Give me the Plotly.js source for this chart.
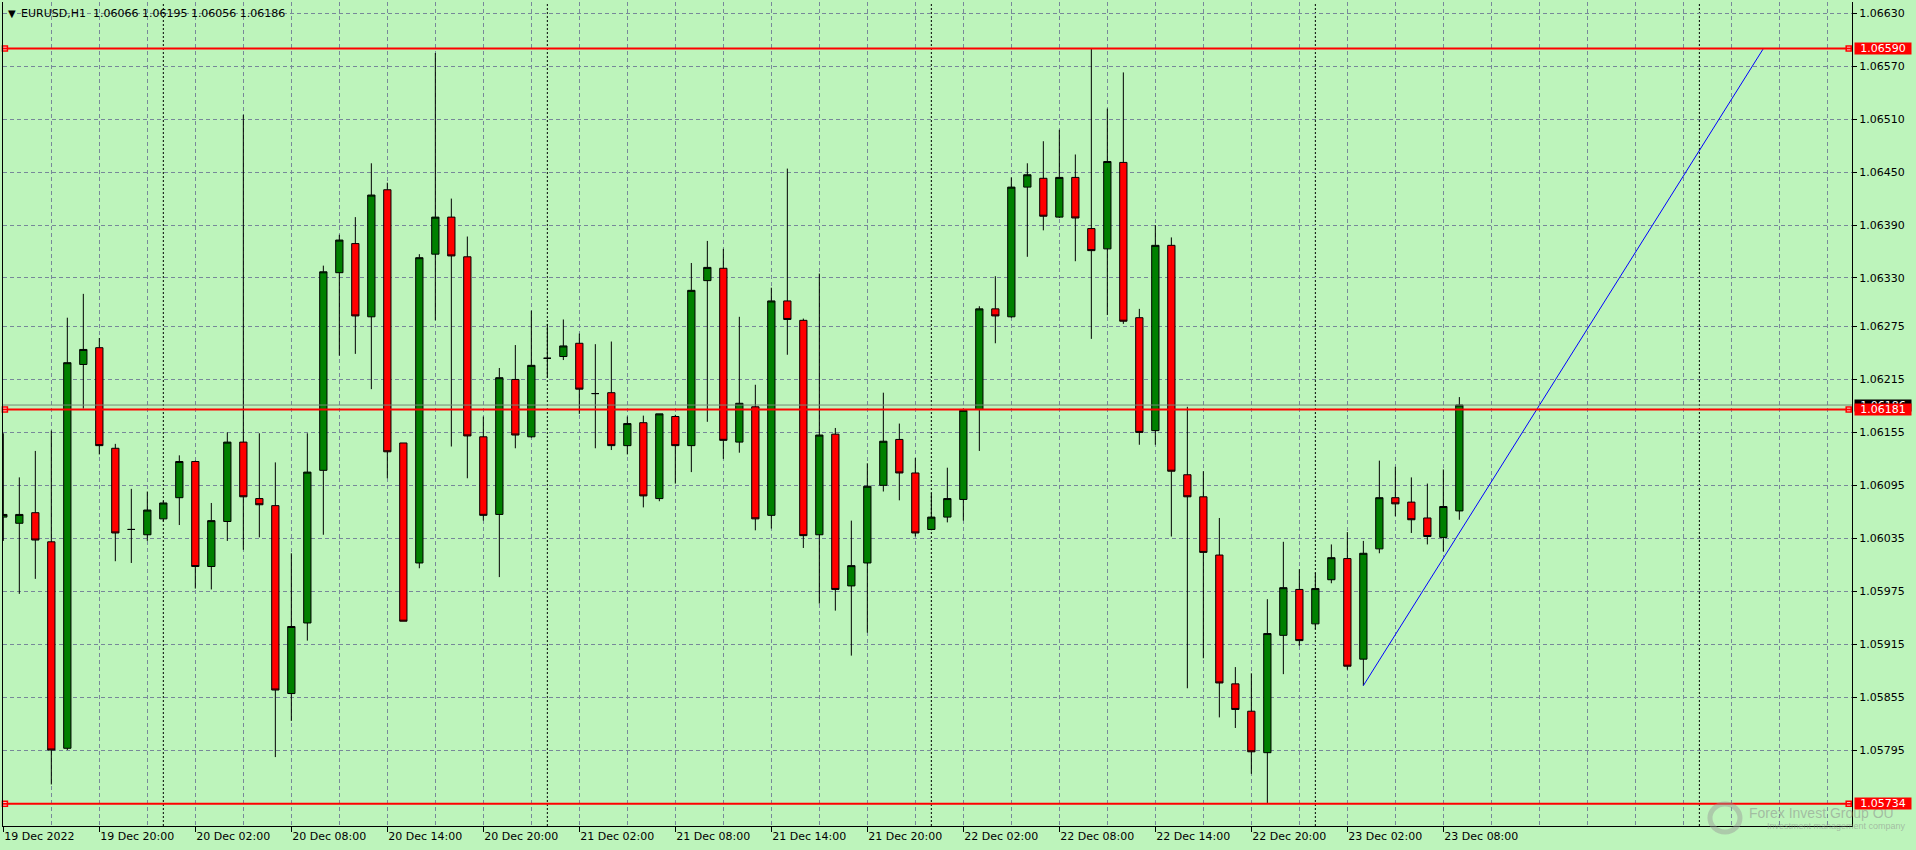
<!DOCTYPE html>
<html><head><meta charset="utf-8">
<script src="https://cdn.plot.ly/plotly-3.0.1.min.js"></script>
<style>html,body{margin:0;padding:0;background:#BDF4BB;} #chart{width:1916px;height:850px;}</style>
</head><body><div id="chart"></div>
<script>
// ---- data (EURUSD H1) ----
const times = [
"2022-12-19 14:00","2022-12-19 15:00","2022-12-19 16:00","2022-12-19 17:00","2022-12-19 18:00","2022-12-19 19:00","2022-12-19 20:00","2022-12-19 21:00","2022-12-19 22:00","2022-12-19 23:00",
"2022-12-20 00:00","2022-12-20 01:00","2022-12-20 02:00","2022-12-20 03:00","2022-12-20 04:00","2022-12-20 05:00","2022-12-20 06:00","2022-12-20 07:00","2022-12-20 08:00","2022-12-20 09:00","2022-12-20 10:00","2022-12-20 11:00","2022-12-20 12:00","2022-12-20 13:00","2022-12-20 14:00","2022-12-20 15:00","2022-12-20 16:00","2022-12-20 17:00","2022-12-20 18:00","2022-12-20 19:00","2022-12-20 20:00","2022-12-20 21:00","2022-12-20 22:00","2022-12-20 23:00",
"2022-12-21 00:00","2022-12-21 01:00","2022-12-21 02:00","2022-12-21 03:00","2022-12-21 04:00","2022-12-21 05:00","2022-12-21 06:00","2022-12-21 07:00","2022-12-21 08:00","2022-12-21 09:00","2022-12-21 10:00","2022-12-21 11:00","2022-12-21 12:00","2022-12-21 13:00","2022-12-21 14:00","2022-12-21 15:00","2022-12-21 16:00","2022-12-21 17:00","2022-12-21 18:00","2022-12-21 19:00","2022-12-21 20:00","2022-12-21 21:00","2022-12-21 22:00","2022-12-21 23:00",
"2022-12-22 00:00","2022-12-22 01:00","2022-12-22 02:00","2022-12-22 03:00","2022-12-22 04:00","2022-12-22 05:00","2022-12-22 06:00","2022-12-22 07:00","2022-12-22 08:00","2022-12-22 09:00","2022-12-22 10:00","2022-12-22 11:00","2022-12-22 12:00","2022-12-22 13:00","2022-12-22 14:00","2022-12-22 15:00","2022-12-22 16:00","2022-12-22 17:00","2022-12-22 18:00","2022-12-22 19:00","2022-12-22 20:00","2022-12-22 21:00","2022-12-22 22:00","2022-12-22 23:00",
"2022-12-23 00:00","2022-12-23 01:00","2022-12-23 02:00","2022-12-23 03:00","2022-12-23 04:00","2022-12-23 05:00","2022-12-23 06:00","2022-12-23 07:00","2022-12-23 08:00","2022-12-23 09:00"
];
const open = [
1.06059,1.06052,1.06064,1.06031,1.05797,1.06232,1.06251,1.06137,1.06045,1.06039,
1.06057,1.06081,1.06122,1.06003,1.06054,1.06144,1.06080,1.06072,1.05859,1.05939,1.06112,1.06336,1.06369,1.06286,1.06430,1.06143,1.06007,1.06357,1.06399,1.06354,1.06150,1.06062,1.06215,1.06150,
1.06239,1.06241,1.06256,1.06199,1.06200,1.06140,1.06166,1.06080,1.06173,1.06140,1.06327,1.06341,1.06144,1.06184,1.06061,1.06304,1.06282,1.06039,1.06153,1.05981,1.06007,1.06095,1.06147,1.06109,
1.06045,1.06059,1.06079,1.06181,1.06295,1.06286,1.06433,1.06443,1.06399,1.06444,1.06386,1.06363,1.06461,1.06285,1.06157,1.06367,1.06107,1.06082,1.06016,1.05870,1.05839,1.05792,1.05925,1.05977,
1.05938,1.05988,1.06012,1.05898,1.06023,1.06081,1.06076,1.06058,1.06036,1.06066
];
const high = [
1.06154,1.06104,1.06134,1.06157,1.06285,1.06312,1.06262,1.06142,1.06091,1.06088,
1.06077,1.06129,1.06123,1.06075,1.06155,1.06515,1.06154,1.06121,1.06018,1.06154,1.06344,1.06379,1.06399,1.06460,1.06438,1.06143,1.06357,1.06585,1.06420,1.06377,1.06173,1.06228,1.06254,1.06293,
1.06278,1.06283,1.06267,1.06255,1.06258,1.06173,1.06174,1.06176,1.06175,1.06347,1.06372,1.06363,1.06286,1.06209,1.06319,1.06454,1.06284,1.06335,1.06160,1.06055,1.06120,1.06200,1.06165,1.06126,
1.06086,1.06115,1.06182,1.06298,1.06332,1.06444,1.06460,1.06485,1.06498,1.06470,1.06590,1.06522,1.06563,1.06295,1.06390,1.06376,1.06184,1.06111,1.06058,1.05889,1.05882,1.05966,1.06031,1.06000,
1.05996,1.06028,1.06042,1.06032,1.06123,1.06116,1.06104,1.06097,1.06113,1.06195
];
const low = [
1.06032,1.05972,1.05989,1.05756,1.05795,1.06182,1.06130,1.06009,1.06007,1.06032,
1.06054,1.06050,1.05978,1.05977,1.06032,1.06022,1.06036,1.05787,1.05828,1.05919,1.06039,1.06242,1.06244,1.06204,1.06103,1.05941,1.06001,1.06282,1.06139,1.06103,1.06055,1.05991,1.06137,1.06149,
1.06217,1.06237,1.06176,1.06137,1.06135,1.06130,1.06070,1.06077,1.06097,1.06110,1.06167,1.06125,1.06132,1.06044,1.06046,1.06243,1.06024,1.05961,1.05953,1.05902,1.05928,1.06088,1.06078,1.06037,
1.06044,1.06053,1.06055,1.06134,1.06256,1.06285,1.06354,1.06384,1.06398,1.06349,1.06261,1.06288,1.06278,1.06141,1.06141,1.06037,1.05865,1.05899,1.05832,1.05820,1.05768,1.05735,1.05881,1.05913,
1.05932,1.05984,1.05886,1.05868,1.06018,1.06060,1.06041,1.06028,1.06020,1.06056
];
const close = [
1.06062,1.06062,1.06033,1.05795,1.06234,1.06249,1.06140,1.06041,1.06045,1.06067,
1.06075,1.06122,1.06003,1.06055,1.06144,1.06082,1.06073,1.05863,1.05935,1.06110,1.06337,1.06373,1.06287,1.06424,1.06133,1.05941,1.06353,1.06399,1.06355,1.06151,1.06061,1.06217,1.06152,1.06231,
1.06239,1.06253,1.06204,1.06199,1.06140,1.06165,1.06083,1.06176,1.06140,1.06316,1.06342,1.06146,1.06188,1.06057,1.06304,1.06283,1.06038,1.06152,1.05977,1.06004,1.06094,1.06145,1.06109,1.06041,
1.06059,1.06080,1.06180,1.06295,1.06287,1.06433,1.06447,1.06400,1.06444,1.06398,1.06361,1.06462,1.06281,1.06155,1.06367,1.06111,1.06082,1.06019,1.05871,1.05841,1.05793,1.05927,1.05979,1.05919,
1.05978,1.06013,1.05890,1.06018,1.06081,1.06074,1.06056,1.06037,1.06071,1.06186
];
const yTickVals = [1.06630,1.06570,1.06510,1.06450,1.06390,1.06330,1.06275,1.06215,1.06155,1.06095,1.06035,1.05975,1.05915,1.05855,1.05795];
const yTickText = ["1.06630","1.06570","1.06510","1.06450","1.06390","1.06330","1.06275","1.06215","1.06155","1.06095","1.06035","1.05975","1.05915","1.05855","1.05795"];
const xTickVals = ["2022-12-19 14:00","2022-12-19 20:00","2022-12-20 02:00","2022-12-20 08:00","2022-12-20 14:00","2022-12-20 20:00","2022-12-21 02:00","2022-12-21 08:00","2022-12-21 14:00","2022-12-21 20:00","2022-12-22 02:00","2022-12-22 08:00","2022-12-22 14:00","2022-12-22 20:00","2022-12-23 02:00","2022-12-23 08:00"];
const xTickText = ["19 Dec 2022","19 Dec 20:00","20 Dec 02:00","20 Dec 08:00","20 Dec 14:00","20 Dec 20:00","21 Dec 02:00","21 Dec 08:00","21 Dec 14:00","21 Dec 20:00","22 Dec 02:00","22 Dec 08:00","22 Dec 14:00","22 Dec 20:00","23 Dec 02:00","23 Dec 08:00"];
const levels = [1.06590, 1.06181, 1.05734];
const bidPrice = 1.06186;
const trendX = ["2022-12-23 03:00", "2022-12-24 04:00"];
const trendY = [1.05868, 1.06590];
const daySeparators = ["2022-12-20 00:00","2022-12-21 00:00","2022-12-22 00:00","2022-12-23 00:00","2022-12-24 00:00"];
const headerText = "EURUSD,H1  1.06066 1.06195 1.06056 1.06186";
const watermarkTitle = "Forex Invest Group OÜ";
const watermarkSub = "Investment management company";

// ---- styles ----
const BG = "#BDF4BB";
const GRID = "#778899";
const GRIDDASH = "4px,3px";
const FONT = "DejaVu Sans";
const xRange = ["2022-12-19 13:58:48", "2022-12-24 09:32:24"];
const yRange = [1.057089, 1.066428];
const anchorX = ["2022-12-19 14:06", "2022-12-24 09:20"];

const traces = [
  {
    type: "candlestick", x: times, open: open, high: high, low: low, close: close,
    increasing: {line: {color: "#000000", width: 1}, fillcolor: "#008000"},
    decreasing: {line: {color: "#000000", width: 1}, fillcolor: "#FF0000"},
    whiskerwidth: 0, hoverinfo: "skip", showlegend: false
  },
  {
    type: "scatter", mode: "lines", x: trendX, y: trendY,
    line: {color: "#0000FF", width: 1}, hoverinfo: "skip", showlegend: false
  }
];
levels.forEach(function (lv) {
  traces.push({
    type: "scatter", mode: "markers", x: anchorX, y: [lv, lv], cliponaxis: false,
    marker: {symbol: "square", size: 5, color: "#FFFFFF", line: {color: "#FF0000", width: 1.5}},
    hoverinfo: "skip", showlegend: false
  });
});

const shapes = [];
daySeparators.forEach(function (d) {
  shapes.push({type: "line", xref: "x", yref: "paper", x0: d, x1: d, y0: 0, y1: 1, layer: "below",
    line: {color: "#000000", width: 1, dash: "2px,2px"}});
});
shapes.push({type: "line", xref: "paper", yref: "y", x0: 0, x1: 1, y0: bidPrice, y1: bidPrice, layer: "above",
  line: {color: "#778877", width: 1}});
levels.forEach(function (lv) {
  shapes.push({type: "line", xref: "paper", yref: "y", x0: 0, x1: 1, y0: lv, y1: lv, layer: "above",
    line: {color: "#FF0000", width: 2}});
});
// watermark logo ring
shapes.push({type: "circle", xref: "paper", yref: "paper", xsizemode: "pixel", ysizemode: "pixel",
  xanchor: 0.9313, yanchor: 0.0097, x0: -15, x1: 15, y0: -14, y1: 14,
  line: {color: "rgba(150,150,150,0.45)", width: 5}, layer: "above"});

const annotations = [
  {xref: "paper", yref: "paper", x: 0, y: 1, xanchor: "left", yanchor: "middle", xshift: 4, yshift: -11,
   text: "▼", showarrow: false, font: {family: FONT, size: 10, color: "#000"}, borderpad: 0},
  {xref: "paper", yref: "paper", x: 0, y: 1, xanchor: "left", yanchor: "middle", xshift: 17, yshift: -11,
   text: headerText.replace(/ /g, "&nbsp;"), showarrow: false, font: {family: FONT, size: 11, color: "#000"}, borderpad: 0},
  {xref: "paper", yref: "paper", x: 0.9313, y: 0.0097, xanchor: "left", yanchor: "middle", xshift: 22, yshift: 6,
   text: watermarkTitle, showarrow: false, font: {family: "Liberation Sans", size: 14, color: "rgba(140,140,140,0.55)"}},
  {xref: "paper", yref: "paper", x: 0.9313, y: 0.0097, xanchor: "left", yanchor: "middle", xshift: 40, yshift: -8,
   text: watermarkSub, showarrow: false, font: {family: "Liberation Sans", size: 9, color: "rgba(140,140,140,0.55)"}},
  {xref: "paper", yref: "y", x: 1, y: bidPrice, xanchor: "left", yanchor: "middle", xshift: 2,
   text: bidPrice.toFixed(5), showarrow: false, bgcolor: "#000000", width: 56, height: 11, borderpad: 0,
   font: {family: FONT, size: 11, color: "#FFFFFF"}}
];
levels.forEach(function (lv) {
  annotations.push({xref: "paper", yref: "y", x: 1, y: lv, xanchor: "left", yanchor: "middle", xshift: 2,
    text: lv.toFixed(5), showarrow: false, bgcolor: "#FF0000", width: 56, height: 11, borderpad: 0,
    font: {family: FONT, size: 11, color: "#FFFFFF"}});
});

const layout = {
  width: 1916, height: 850,
  margin: {l: 3, r: 64, t: 2, b: 24, pad: 0},
  paper_bgcolor: BG, plot_bgcolor: BG,
  font: {family: FONT, size: 11, color: "#000"},
  showlegend: false,
  boxgap: 0.35,
  hovermode: false,
  xaxis: {
    type: "date", range: xRange, rangeslider: {visible: false}, fixedrange: true,
    tickmode: "array", tickvals: xTickVals, ticktext: xTickText,
    ticks: "outside", ticklen: 5, tickcolor: "#000", tickwidth: 1,
    ticklabelposition: "outside right", tickfont: {family: FONT, size: 11, color: "#000"},
    showgrid: true, gridcolor: GRID, griddash: GRIDDASH, gridwidth: 1,
    minor: {tickmode: "linear", tick0: "2022-12-19 17:00", dtick: 10800000, showgrid: true,
            gridcolor: GRID, griddash: GRIDDASH, gridwidth: 1, ticks: ""},
    showline: true, linecolor: "#000", linewidth: 1, mirror: false, zeroline: false
  },
  yaxis: {
    side: "right", range: yRange, fixedrange: true,
    tickmode: "array", tickvals: yTickVals, ticktext: yTickText,
    ticks: "outside", ticklen: 4, tickcolor: "#000", tickwidth: 1,
    tickfont: {family: FONT, size: 11, color: "#000"},
    showgrid: true, gridcolor: GRID, griddash: GRIDDASH, gridwidth: 1,
    showline: true, linecolor: "#000", linewidth: 1, mirror: true, zeroline: false
  },
  shapes: shapes,
  annotations: annotations
};

Plotly.newPlot("chart", traces, layout, {staticPlot: true, displayModeBar: false});
</script>
</body></html>
